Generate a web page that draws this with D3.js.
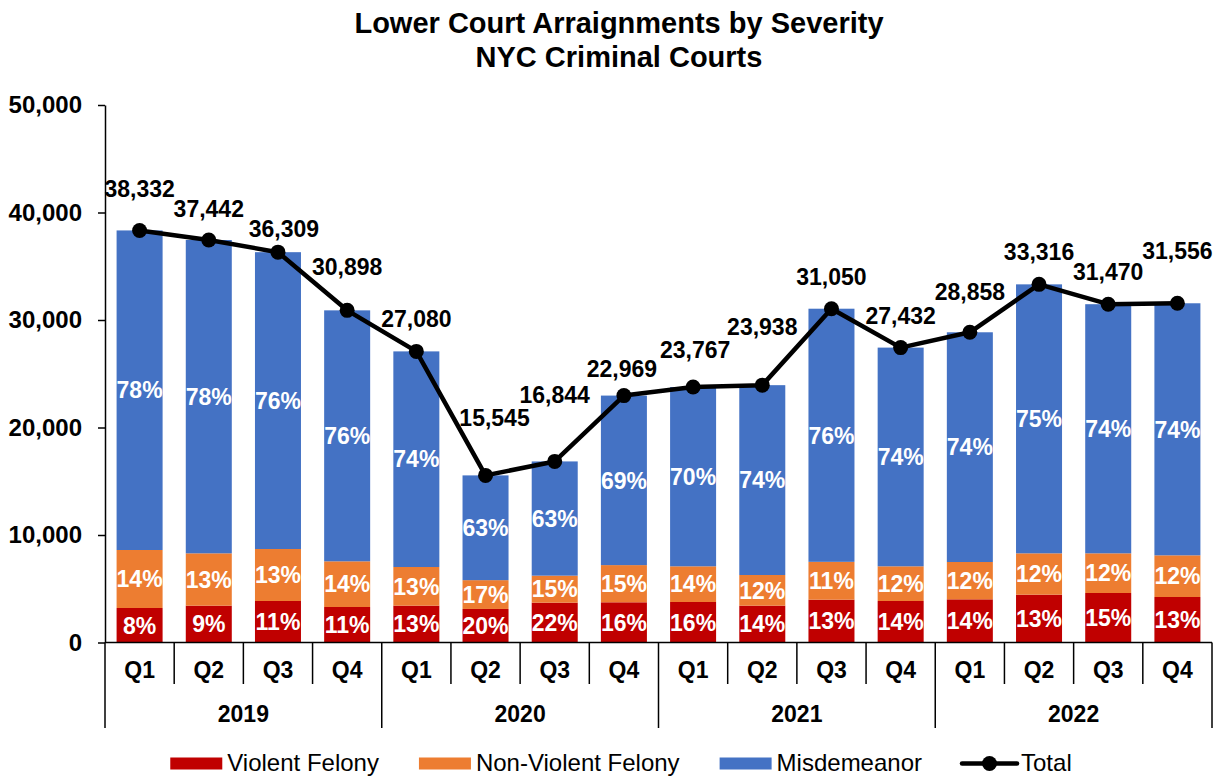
<!DOCTYPE html>
<html>
<head>
<meta charset="utf-8">
<script src="https://cdn.jsdelivr.net/npm/d3@7"></script>
<style>
  html, body { margin: 0; padding: 0; background: #ffffff; }
  svg { display: block; font-family: Arial, "Liberation Sans", sans-serif; }
</style>
</head>
<body>
<svg id="chart" width="1221" height="778"></svg>
<script>
// ---------------- data ----------------
const years = ["2019", "2020", "2021", "2022"];
const quarters = ["Q1", "Q2", "Q3", "Q4"];
const categories = years.flatMap(y => quarters.map(q => y + " " + q));

const totals = [38332, 37442, 36309, 30898, 27080, 15545, 16844, 22969,
                23767, 23938, 31050, 27432, 28858, 33316, 31470, 31556];
const violentFelony = [3209, 3426, 3860, 3302, 3426, 3120, 3705, 3740,
                       3767, 3426, 3984, 3860, 4016, 4450, 4605, 4233];
const nonViolentFelony = [5396, 4869, 4838, 4250, 3597, 2680, 2514, 3460,
                          3321, 2853, 3520, 3228, 3472, 3845, 3690, 3876];
const misdemeanor = totals.map((t, i) => t - violentFelony[i] - nonViolentFelony[i]);

const pctViolent = [8, 9, 11, 11, 13, 20, 22, 16, 16, 14, 13, 14, 14, 13, 15, 13];
const pctNonViolent = [14, 13, 13, 14, 13, 17, 15, 15, 14, 12, 11, 12, 12, 12, 12, 12];
const pctMisdemeanor = [78, 78, 76, 76, 74, 63, 63, 69, 70, 74, 76, 74, 74, 75, 74, 74];

const yTicks = [0, 10000, 20000, 30000, 40000, 50000];

const seriesNames = ["Violent Felony", "Non-Violent Felony", "Misdemeanor"];
const seriesColors = ["#C00000", "#ED7D31", "#4472C4"];

// label nudges for the total labels (layout only, px)
const totalLabelLift = [33, 23, 15, 35, 24, 49, 58, 19, 29, 50, 24, 24, 32, 24, 24, 44];
const totalLabelShift = [0, 0, 6, 0, 0, 9, 0, -2, 2, 0, 0, 0, 0, 0, 0, 0];

// ---------------- layout ----------------
const svg = d3.select("#chart");
const plotLeft = 105, plotRight = 1212, plotTop = 105, plotBottom = 642.5;
const FONT = "Arial, 'Liberation Sans', sans-serif";

const x = d3.scaleBand().domain(categories).range([plotLeft, plotRight])
  .paddingInner(0.335).paddingOuter(0.1675);
const y = d3.scaleLinear().domain([0, 50000]).range([plotBottom, plotTop]);
const step = x.step();

// title
const title = svg.append("text").attr("x", 619).attr("text-anchor", "middle")
  .attr("font-size", 29).attr("font-weight", "bold").attr("fill", "#000");
title.append("tspan").attr("x", 619).attr("y", 33).text("Lower Court Arraignments by Severity");
title.append("tspan").attr("x", 619).attr("y", 67).text("NYC Criminal Courts");

// stacked data
const rows = categories.map((c, i) => ({
  cat: c, i,
  "Violent Felony": violentFelony[i],
  "Non-Violent Felony": nonViolentFelony[i],
  "Misdemeanor": misdemeanor[i]
}));
const stack = d3.stack().keys(seriesNames)(rows);
const pcts = [pctViolent, pctNonViolent, pctMisdemeanor];

const gBars = svg.append("g");
stack.forEach((layer, li) => {
  gBars.selectAll(null).data(layer).enter().append("rect")
    .attr("x", d => x(d.data.cat))
    .attr("width", x.bandwidth())
    .attr("y", d => y(d[1]))
    .attr("height", d => y(d[0]) - y(d[1]))
    .attr("fill", seriesColors[li]);
});
stack.forEach((layer, li) => {
  gBars.selectAll(null).data(layer).enter().append("text")
    .attr("x", d => x(d.data.cat) + x.bandwidth() / 2)
    .attr("y", d => (y(d[0]) + y(d[1])) / 2)
    .attr("dy", "0.36em")
    .attr("text-anchor", "middle")
    .attr("font-size", 23).attr("font-weight", "bold").attr("fill", "#ffffff")
    .text(d => pcts[li][d.data.i] + "%");
});

// y axis
const yAxis = svg.append("g").attr("transform", `translate(${plotLeft},0)`)
  .call(d3.axisLeft(y).tickValues(yTicks).tickFormat(d3.format(",")).tickSize(7).tickPadding(16).tickSizeOuter(0));
yAxis.select(".domain").attr("stroke", "#000").attr("stroke-width", 1.5);
yAxis.selectAll(".tick line").attr("stroke", "#000").attr("stroke-width", 1.5);
yAxis.selectAll(".tick text").attr("font-size", 24).attr("font-weight", "bold")
  .attr("fill", "#000").attr("font-family", FONT);

// x axis (quarter labels)
const xAxis = svg.append("g").attr("transform", `translate(0,${plotBottom})`)
  .call(d3.axisBottom(x).tickSize(0).tickPadding(19).tickFormat(d => d.split(" ")[1]));
xAxis.select(".domain").remove();
xAxis.selectAll(".tick text").attr("font-size", 23).attr("font-weight", "bold")
  .attr("fill", "#000").attr("font-family", FONT);

const gx = svg.append("g").attr("stroke", "#000").attr("stroke-width", 1.5);
gx.append("line").attr("x1", plotLeft).attr("x2", plotRight).attr("y1", plotBottom).attr("y2", plotBottom);
categories.forEach((c, i) => {
  const bx = x(c) - step * x.paddingInner() / 2;
  const isYear = i % 4 === 0;
  gx.append("line").attr("x1", bx).attr("x2", bx).attr("y1", plotBottom)
    .attr("y2", isYear ? 728 : 684);
});
gx.append("line").attr("x1", plotRight).attr("x2", plotRight).attr("y1", plotBottom).attr("y2", 728);

// year labels
years.forEach((yr) => {
  const first = x(yr + " Q1") - step * x.paddingInner() / 2;
  svg.append("text").attr("x", first + step * 2).attr("y", 721.5)
    .attr("text-anchor", "middle").attr("font-size", 23).attr("font-weight", "bold")
    .attr("fill", "#000").text(yr);
});

// total line
const cx = d => x(d.cat) + x.bandwidth() / 2;
const totalData = categories.map((c, i) => ({cat: c, i, v: totals[i]}));
svg.append("path").datum(totalData)
  .attr("fill", "none").attr("stroke", "#000").attr("stroke-width", 4.5)
  .attr("stroke-linejoin", "round")
  .attr("d", d3.line().x(cx).y(d => y(d.v)));
svg.selectAll(null).data(totalData).enter().append("circle")
  .attr("cx", cx).attr("cy", d => y(d.v)).attr("r", 7.5).attr("fill", "#000");
svg.selectAll(null).data(totalData).enter().append("text")
  .attr("x", d => cx(d) + totalLabelShift[d.i])
  .attr("y", d => y(d.v) - totalLabelLift[d.i])
  .attr("text-anchor", "middle").attr("font-size", 23).attr("font-weight", "bold")
  .attr("fill", "#000").text(d => d3.format(",")(d.v));

// legend
const legendItems = [
  {name: "Violent Felony", color: seriesColors[0], type: "rect"},
  {name: "Non-Violent Felony", color: seriesColors[1], type: "rect"},
  {name: "Misdemeanor", color: seriesColors[2], type: "rect"},
  {name: "Total", color: "#000", type: "line"}
];
const gLeg = svg.append("g");
let lx = 0;
legendItems.forEach((it) => {
  const g = gLeg.append("g").attr("transform", `translate(${lx},0)`);
  if (it.type === "rect") {
    g.append("rect").attr("x", 0).attr("y", 757.5).attr("width", 52).attr("height", 12).attr("fill", it.color);
  } else {
    g.append("line").attr("x1", 0).attr("x2", 55).attr("y1", 763.5).attr("y2", 763.5)
      .attr("stroke", "#000").attr("stroke-width", 4.5).attr("stroke-linecap", "round");
    g.append("circle").attr("cx", 27.5).attr("cy", 763.5).attr("r", 7.5).attr("fill", "#000");
  }
  const tx = it.type === "rect" ? 57 : 59;
  const t = g.append("text").attr("x", tx).attr("y", 770.5).attr("font-size", 24)
    .attr("fill", "#000").text(it.name);
  lx += tx + t.node().getComputedTextLength() + 40;
});
const legW = lx - 40;
gLeg.attr("transform", `translate(${621 - legW / 2},0)`);
</script>
</body>
</html>
